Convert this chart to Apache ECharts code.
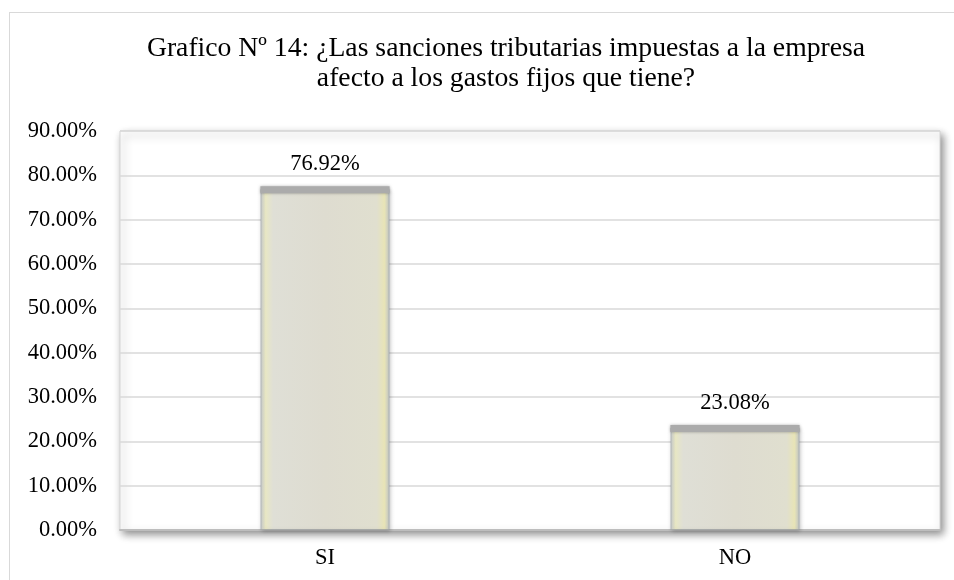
<!DOCTYPE html>
<html>
<head>
<meta charset="utf-8">
<script src="https://cdn.jsdelivr.net/npm/echarts@6/dist/echarts.min.js"></script>
<style>
html,body{margin:0;padding:0;background:#fff;}
#frame{position:absolute;left:9px;top:12px;width:960px;height:600px;border:1.5px solid #d9d9d9;box-sizing:border-box;}
#c{position:absolute;left:0;top:0;width:954px;height:580px;}
</style>
</head>
<body>
<div id="frame"></div>
<div id="c"></div>
<script>
const titleText = "Grafico Nº 14: ¿Las sanciones tributarias impuestas a la empresa\nafecto a los gastos fijos que tiene?";
const categories = ["SI", "NO"];
const percentValues = [76.92, 23.08];
const yTicks = { min: 0, max: 90, interval: 10 };

const chart = echarts.init(document.getElementById('c'), null, {renderer: 'canvas'});
const serif = "'Liberation Serif', 'DejaVu Serif', serif";

chart.setOption({
  animation: false,
  title: {
    text: titleText,
    left: 501,
    textAlign: 'center',
    top: 29,
    textStyle: { fontFamily: serif, fontWeight: 'normal', fontSize: 27.7, color: '#000', lineHeight: 30 }
  },
  grid: {
    left: 120, right: 14, top: 131, bottom: 50,
    show: true,
    backgroundColor: '#fff',
    borderColor: '#d4d4d4',
    borderWidth: 1,
    shadowColor: 'rgba(0,0,0,0.45)',
    shadowBlur: 8,
    shadowOffsetX: 3,
    shadowOffsetY: 4
  },
  xAxis: {
    type: 'category',
    data: categories,
    axisLine: { show: true, lineStyle: { color: '#bdbdbd', width: 2 } },
    axisTick: { show: false },
    axisLabel: { fontFamily: serif, fontSize: 22.5, color: '#000', margin: 17 }
  },
  yAxis: {
    type: 'value',
    min: yTicks.min, max: yTicks.max, interval: yTicks.interval,
    axisLine: { show: false },
    axisTick: { show: false },
    splitLine: { lineStyle: { color: '#d9d9d9', width: 1.5 } },
    axisLabel: {
      fontFamily: serif, fontSize: 22.5, color: '#000', margin: 23,
      formatter: v => v.toFixed(2) + '%'
    }
  },
  series: [
    {
      type: 'bar',
      data: percentValues,
      barWidth: '31.5%',
      itemStyle: {
        color: {
          type: 'linear', x: 0, y: 0, x2: 1, y2: 0,
          colorStops: [
            { offset: 0, color: '#c9cccf' },
            { offset: 0.04, color: '#e8e7c4' },
            { offset: 0.1, color: '#dfdfd6' },
            { offset: 0.5, color: '#dedcd0' },
            { offset: 0.9, color: '#e0dfcf' },
            { offset: 0.96, color: '#e8e4b6' },
            { offset: 1, color: '#c2c6c8' }
          ]
        },
        borderColor: 'rgba(150,155,160,0.5)',
        borderWidth: 1,
        shadowColor: 'rgba(0,0,0,0.25)',
        shadowBlur: 4,
        shadowOffsetX: 1,
        shadowOffsetY: 1
      },
      label: {
        show: true, position: 'top', distance: 13,
        fontFamily: serif, fontSize: 22.5, color: '#000',
        formatter: p => p.value.toFixed(2) + '%'
      },
      z: 2
    },
    {
      type: 'pictorialBar',
      data: percentValues,
      barWidth: '31.5%',
      symbol: 'rect',
      symbolSize: ['100%', 7],
      symbolPosition: 'end',
      symbolOffset: [0, '-40%'],
      itemStyle: { color: '#ababab', shadowColor: 'rgba(0,0,0,0.3)', shadowBlur: 3 },
      z: 3,
      silent: true
    }
  ]
});
</script>
</body>
</html>
